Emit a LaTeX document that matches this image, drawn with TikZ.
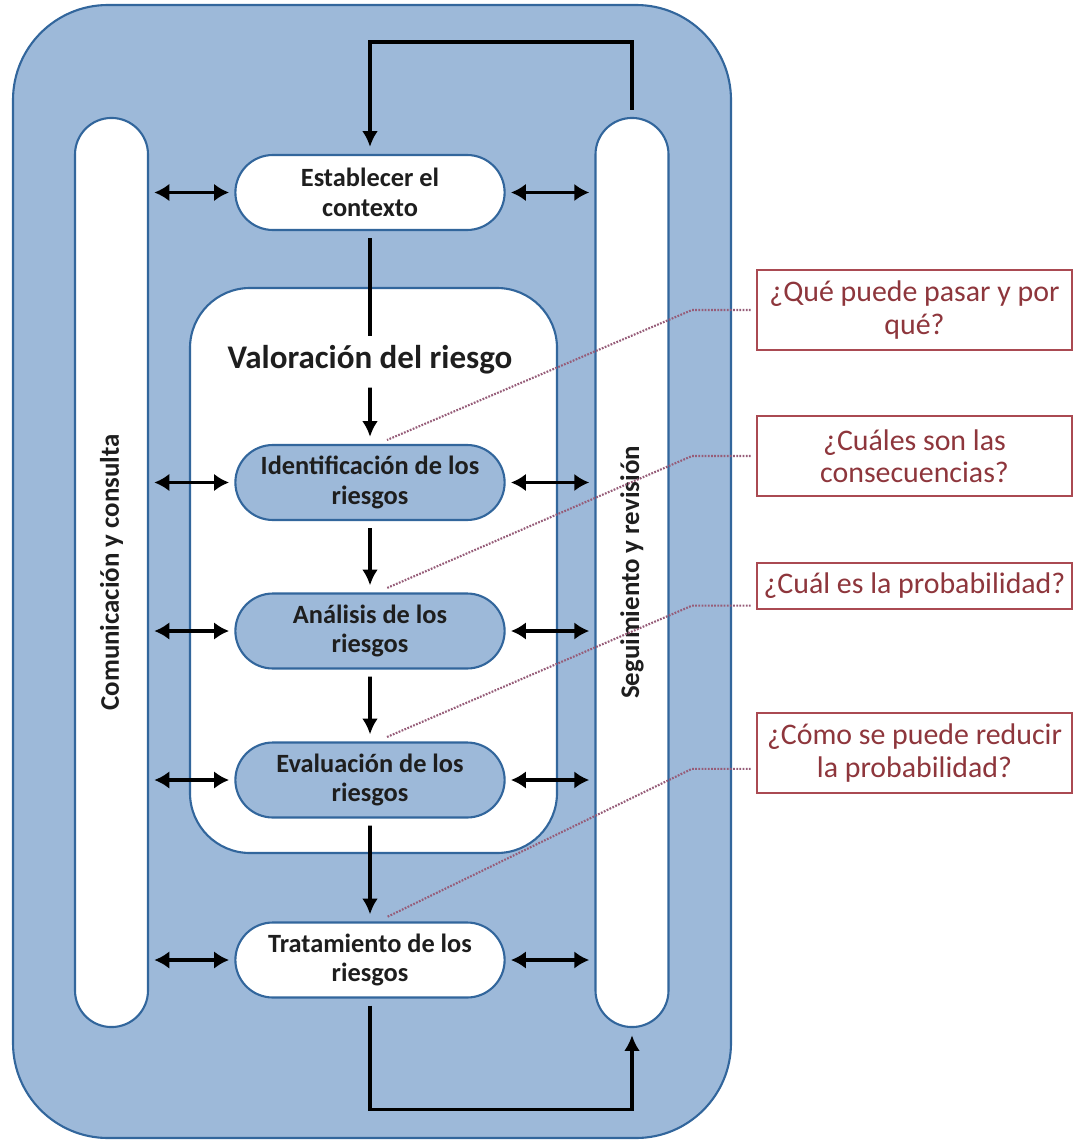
\documentclass[tikz,border=0pt]{standalone}
\usepackage{fontspec}
\setmainfont{Carlito}
\usepackage{tikz}
\usetikzlibrary{calc,shapes.misc,arrows.meta}
\usepackage{xcolor}
\definecolor{azulfondo}{RGB}{157,185,217}
\definecolor{azulborde}{RGB}{50,102,156}
\definecolor{rojoborde}{RGB}{170,74,82}
\definecolor{rojotexto}{RGB}{142,54,60}
\definecolor{guiacolor}{RGB}{150,92,120}
\definecolor{textonegro}{RGB}{30,30,30}

\begin{document}
\begin{tikzpicture}[x=0.02cm,y=-0.02cm,textonegro]
	\tikzset{columna/.style={rounded rectangle,draw=azulborde,fill=white,line width=1.2pt,minimum width=18.42cm,minimum height=1.46cm,rotate=90,font=\bfseries\fontsize{15.3}{17}\selectfont},
		etapa/.style={rounded rectangle,draw=azulborde,fill=white,line width=1.2pt,minimum width=5.62cm,minimum height=1.5cm,align=center,font=\bfseries\fontsize{15}{17}\selectfont},
		pregunta/.style={rectangle,draw=rojoborde,fill=white,line width=1.2pt,minimum width=6.3cm,minimum height=1.6cm,align=center,text=rojotexto,font=\fontsize{17}{18.5}\selectfont},
		flujo/.style={line width=2.2pt,black,-{Latex[length=9pt,width=9pt]},shorten >=4pt,shorten <=4pt},
		doble/.style={line width=2pt,black,{Latex[length=8.5pt,width=10pt]}-{Latex[length=8.5pt,width=10pt]},shorten >=3pt,shorten <=3pt},
		guia/.style={guiacolor,line width=1.2pt,dash pattern=on 1pt off 0.8pt,shorten <=3pt}}
	\useasboundingbox (0,0) rectangle (1075,1142);
	% fondo
	\draw[draw=azulborde,fill=azulfondo,line width=1.2pt,rounded corners=1.9cm] (13,5) rectangle (731,1138);
	\node[columna] at (111.5,572.5) (com){Comunicación y consulta};
	\node[columna] at (632,572.5) (seg){Seguimiento y revisión};
	\draw[draw=azulborde,fill=white,line width=1.2pt,rounded corners=1.2cm] (190,288) rectangle (557,853);
	% etapas
	\node[etapa] at (370,192.5) (est){Establecer el\\contexto};
	\node[font=\bfseries\fontsize{18.8}{20}\selectfont] at (370,360) (titulo){Valoración del riesgo};
	\node[etapa,fill=azulfondo] at (370,482.5) (ide){Identificación de los\\riesgos};
	\node[etapa,fill=azulfondo] at (370,631) (ana){Análisis de los\\riesgos};
	\node[etapa,fill=azulfondo] at (370,780) (eva){Evaluación de los\\riesgos};
	\node[etapa] at (370,960) (tra){Tratamiento de los\\riesgos};
	% preguntas
	\node[pregunta] at (914.5,310) (p1){¿Qué puede pasar y por\\qué?};
	\node[pregunta] at (914.5,456) (p2){¿Cuáles son las\\consecuencias?};
	\node[pregunta,minimum height=0.92cm] at (914.5,586) (p3){¿Cuál es la probabilidad?};
	\node[pregunta] at (914.5,753) (p4){¿Cómo se puede reducir\\la probabilidad?};
	\coordinate (g1) at (387,440);
	\coordinate (g2) at (387,588);
	\coordinate (g3) at (387,737);
	\coordinate (g4) at (387,917);
	% flechas
	\draw[flujo] (seg.east) -- ++(0,-75) -| (est.north);
	\draw[line width=2.2pt,black,shorten <=4pt,shorten >=2pt] (est.south) -- (titulo.north);
	\draw[flujo] (titulo) -- (ide);
	\draw[flujo] (ide) -- (ana);
	\draw[flujo] (ana) -- (eva);
	\draw[flujo] (eva) -- (tra);
	\draw[flujo] (tra.south) -- ++(0,111) -| (seg.west);
	\foreach \n in {est,ide,ana,eva,tra}{
		\draw[doble] (com.south |- \n.west) -- (\n.west);
		\draw[doble] (\n.east) -- (seg.north |- \n.east);
	}
	\draw[guia] (p1.west) -- ++(-64,0) -- (g1);
	\draw[guia] (p2.west) -- ++(-64,0) -- (g2);
	\draw[guia] ([yshift=2.5pt]p3.south west) -- ++(-64,0) -- (g3);
	\draw[guia] ([yshift=-9pt]p4.west) -- ++(-64,0) -- (g4);
\end{tikzpicture}
\end{document}
